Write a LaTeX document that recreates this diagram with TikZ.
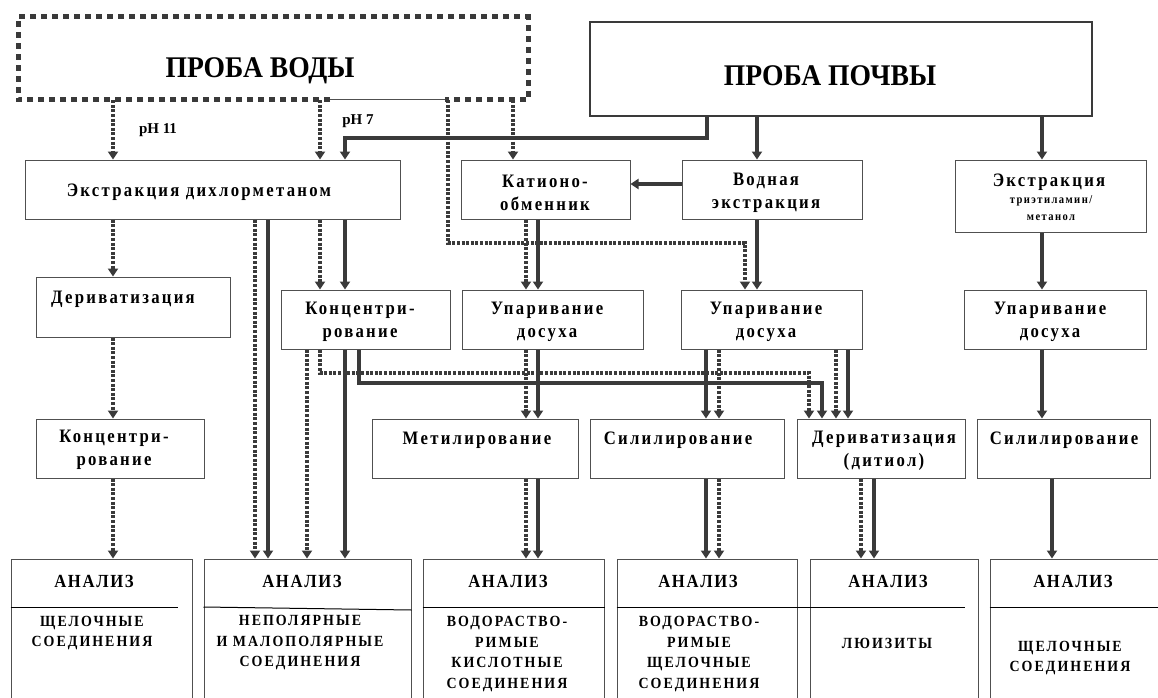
\documentclass[tikz,border=0pt]{standalone}
\usepackage{fontspec}
\setmainfont{Liberation Serif}
\newfontfamily\spc[LetterSpace=12,FakeStretch=0.88]{Liberation Serif}
\newfontfamily\spcs[LetterSpace=13,FakeStretch=0.9]{Liberation Serif}
\newfontfamily\spch[LetterSpace=9,FakeStretch=0.9]{Liberation Serif}
\newfontfamily\ttl[FakeStretch=0.92]{Liberation Serif}
\usetikzlibrary{arrows.meta,fit}
\definecolor{ln}{HTML}{3A3A3A}
\definecolor{bd}{HTML}{505050}
\begin{document}
\begin{tikzpicture}[x=1pt,y=-1pt,
  box/.style={draw=bd,line width=1pt,inner sep=0pt,fill=white},
  wire/.style={draw=ln,line width=3.5pt,-{Triangle[width=10pt,length=8pt]}},
  dwire/.style={wire,dash pattern=on 3pt off 1.6pt},
  lbl/.style={font=\spc\bfseries\fontsize{19}{23}\selectfont,align=center,inner sep=0pt},
  small/.style={font=\spc\bfseries\fontsize{12}{17}\selectfont,align=center,inner sep=0pt},
  head/.style={font=\spch\bfseries\fontsize{18.5}{19}\selectfont,inner sep=0pt},
  cat/.style={font=\spcs\bfseries\fontsize{15.5}{20.5}\selectfont,align=center,inner sep=0pt},
  title/.style={font=\ttl\bfseries\fontsize{30}{32}\selectfont,inner sep=0pt},
  ph/.style={font=\bfseries\fontsize{15}{16}\selectfont,inner sep=0pt},
  divider/.style={draw=black,line width=1pt}]
\useasboundingbox (0,0) rectangle (1158,698);
\clip (0,0) rectangle (1158,698);
% column and row coordinates
\foreach \c in {113,255,268,307,320,345,359,448,513,526,538,706,707,719,745,757,809,822,836,848,861,874,1042,1052}
  \coordinate (c\c) at (\c,0);
\foreach \r in {138,184,243,373,383}
  \coordinate (r\r) at (0,\r);

% top boxes
\node[inner sep=0pt,fit={(18,17)(528,100)}] (water) {};
\draw[ln,line width=5pt,dash pattern=on 6pt off 5pt]
  (330,100) -- (18,100) -- (18,17) -- (528,17) -- (528,100) -- (445,100);
\draw[bd,line width=1pt] (330,100) -- (445,100);
\node[title] (twater) at (260,71) {ПРОБА ВОДЫ};
\node[draw=ln,line width=2.5pt,inner sep=0pt,fit={(590,22)(1092,116)}] (soil) {};
\node[title] (tsoil) at (830,76) {ПРОБА ПОЧВЫ};
\node[ph] (ph11) at (158,130) {pH 11};
\node[ph] (ph7) at (358,121) {pH 7};

% boxes
\node[box,fit={(25,160)(400,219)}] (ext) {};
\node[box,fit={(461,160)(630,219)}] (kat) {};
\node[box,fit={(682,160)(862,219)}] (vod) {};
\node[box,fit={(955,160)(1146,232)}] (ext3) {};
\node[box,fit={(36,277)(230,337)}] (der) {};
\node[box,fit={(281,290)(450,349)}] (konM) {};
\node[box,fit={(462,290)(643,349)}] (up1) {};
\node[box,fit={(681,290)(862,349)}] (up2) {};
\node[box,fit={(964,290)(1146,349)}] (up3) {};
\node[box,fit={(36,419)(204,478)}] (konL) {};
\node[box,fit={(372,419)(578,478)}] (met) {};
\node[box,fit={(590,419)(784,478)}] (sil) {};
\node[box,fit={(797,419)(965,478)}] (derD) {};
\node[box,fit={(977,419)(1150,478)}] (sil2) {};
\node[box,fit={(11,559)(192,720)}] (an1) {};
\node[box,fit={(204,559)(411,720)}] (an2) {};
\node[box,fit={(423,559)(604,720)}] (an3) {};
\node[box,fit={(617,559)(797,720)}] (an4) {};
\node[box,fit={(810,559)(978,720)}] (an5) {};
\node[box,fit={(990,559)(1170,720)}] (an6) {};

% dividers in analysis boxes
\draw[divider] (an1.west |- 0,607) -- (178,607);
\draw[divider] (an2.west |- 0,607) -- (an2.east |- 0,610);
\draw[divider] (an3.west |- 0,607) -- (an3.east |- 0,607);
\draw[divider] (an4.west |- 0,607) -- (965,607);
\draw[divider] (an6.west |- 0,607) -- (1158,607);

% connectors
\draw[dwire] (water.south -| c113) -- (ext.north -| c113);
\draw[dwire] (water.south -| c320) -- (ext.north -| c320);
\draw[dwire] (water.south -| c513) -- (kat.north -| c513);
\draw[dwire] (water.south -| c448) -- (c448 |- r243) -- (c745 |- r243) -- (up2.north -| c745);
\draw[wire] (soil.south -| c707) -- (c707 |- r138) -- (c345 |- r138) -- (ext.north -| c345);
\draw[wire] (soil.south -| c757) -- (vod.north -| c757);
\draw[wire] (soil.south -| c1042) -- (ext3.north -| c1042);
\draw[wire] (vod.west |- r184) -- (kat.east |- r184);
\draw[dwire] (ext.south -| c113) -- (der.north -| c113);
\draw[dwire] (der.south -| c113) -- (konL.north -| c113);
\draw[dwire] (konL.south -| c113) -- (an1.north -| c113);
\draw[dwire] (ext.south -| c255) -- (an2.north -| c255);
\draw[wire] (ext.south -| c268) -- (an2.north -| c268);
\draw[dwire] (ext.south -| c320) -- (konM.north -| c320);
\draw[wire] (ext.south -| c345) -- (konM.north -| c345);
\draw[dwire] (konM.south -| c307) -- (an2.north -| c307);
\draw[wire] (konM.south -| c345) -- (an2.north -| c345);
\draw[dwire] (konM.south -| c320) -- (c320 |- r373) -- (c809 |- r373) -- (derD.north -| c809);
\draw[wire] (konM.south -| c359) -- (c359 |- r383) -- (c822 |- r383) -- (derD.north -| c822);
\draw[dwire] (kat.south -| c526) -- (up1.north -| c526);
\draw[wire] (kat.south -| c538) -- (up1.north -| c538);
\draw[dwire] (up1.south -| c526) -- (met.north -| c526);
\draw[wire] (up1.south -| c538) -- (met.north -| c538);
\draw[dwire] (met.south -| c526) -- (an3.north -| c526);
\draw[wire] (met.south -| c538) -- (an3.north -| c538);
\draw[wire] (vod.south -| c757) -- (up2.north -| c757);
\draw[wire] (up2.south -| c706) -- (sil.north -| c706);
\draw[dwire] (up2.south -| c719) -- (sil.north -| c719);
\draw[dwire] (up2.south -| c836) -- (derD.north -| c836);
\draw[wire] (up2.south -| c848) -- (derD.north -| c848);
\draw[wire] (sil.south -| c706) -- (an4.north -| c706);
\draw[dwire] (sil.south -| c719) -- (an4.north -| c719);
\draw[dwire] (derD.south -| c861) -- (an5.north -| c861);
\draw[wire] (derD.south -| c874) -- (an5.north -| c874);
\draw[wire] (ext3.south -| c1042) -- (up3.north -| c1042);
\draw[wire] (up3.south -| c1042) -- (sil2.north -| c1042);
\draw[wire] (sil2.south -| c1052) -- (an6.north -| c1052);

% box texts
\node[lbl] (text) at (199,192) {Экстракция дихлорметаном};
\node[lbl] (tkat) at (545,193) {Катионо-\\обменник};
\node[lbl] (tvod) at (766,193) {Водная\\экстракция};
\node[lbl] (text3) at (1049,182) {Экстракция};
\node[small] (text3b) at (1051,208) {триэтиламин/\\метанол};
\node[lbl] (tder) at (123,299) {Дериватизация};
\node[lbl] (tkonM) at (360,322) {Концентри-\\рование};
\node[lbl] (tup1) at (547,322) {Упаривание\\досуха};
\node[lbl] (tup2) at (766,322) {Упаривание\\досуха};
\node[lbl] (tup3) at (1050,322) {Упаривание\\досуха};
\node[lbl] (tkonL) at (114,450) {Концентри-\\рование};
\node[lbl] (tmet) at (477,440) {Метилирование};
\node[lbl] (tsil) at (678,440) {Силилирование};
\node[lbl] (tderD) at (884,451) {Дериватизация\\(дитиол)};
\node[lbl] (tsil2) at (1064,440) {Силилирование};

% analysis texts
\node[head] (h1) at (94,581) {АНАЛИЗ};
\node[head] (h2) at (302,581) {АНАЛИЗ};
\node[head] (h3) at (508,581) {АНАЛИЗ};
\node[head] (h4) at (698,581) {АНАЛИЗ};
\node[head] (h5) at (888,581) {АНАЛИЗ};
\node[head] (h6) at (1073,581) {АНАЛИЗ};
\node[cat] (k1) at (92,633) {ЩЕЛОЧНЫЕ\\СОЕДИНЕНИЯ};
\node[cat] (k2) at (300,643) {НЕПОЛЯРНЫЕ\\И МАЛОПОЛЯРНЫЕ\\СОЕДИНЕНИЯ};
\node[cat] (k3) at (507,654) {ВОДОРАСТВО-\\РИМЫЕ\\КИСЛОТНЫЕ\\СОЕДИНЕНИЯ};
\node[cat] (k4) at (699,654) {ВОДОРАСТВО-\\РИМЫЕ\\ЩЕЛОЧНЫЕ\\СОЕДИНЕНИЯ};
\node[cat] (k5) at (887,643) {ЛЮИЗИТЫ};
\node[cat] (k6) at (1070,658) {ЩЕЛОЧНЫЕ\\СОЕДИНЕНИЯ};
\end{tikzpicture}
\end{document}
